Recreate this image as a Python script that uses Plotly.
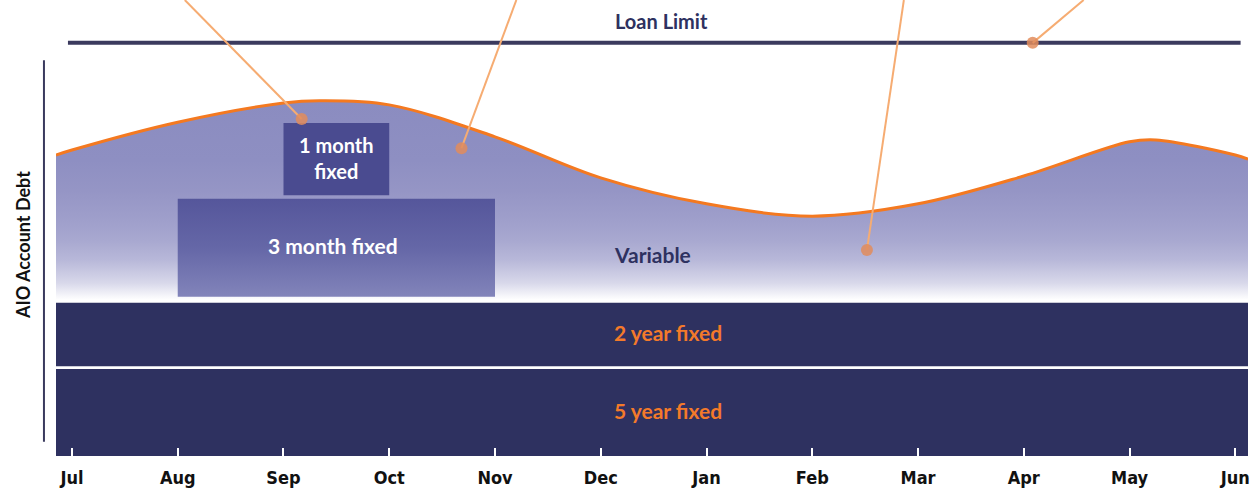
import plotly.graph_objects as go

# ---------------- data ----------------
months = ["Jul", "Aug", "Sep", "Oct", "Nov", "Dec", "Jan", "Feb", "Mar", "Apr", "May", "Jun"]
month_pos = list(range(12))

# AIO account debt (variable portion top) over the year
curve_x = [-0.151, 0, 1, 2, 2.34, 3, 4, 5, 6, 7, 8, 9, 10, 10.25, 11, 11.12]
curve_y = [66.0, 67.1, 73.2, 77.4, 77.9, 77.0, 70.0, 61.0, 55.3, 52.6, 55.3, 61.4, 68.9, 69.3, 66.0, 65.1]

variable_base = 34.2
loan_limit = 90.6
loan_limit_x = [-0.038, 11.05]

# fixed-term bands (bottom, top)
band_names = ["5 year fixed", "2 year fixed"]
band_low = [0.0, 19.7]
band_high = [19.1, 33.6]

# short-term fixed boxes
box_names = ["3 month fixed", "1 month<br>fixed"]
box_start = [1.0, 2.0]
box_end = [4.0, 3.0]
box_low = [34.9, 57.2]
box_high = [56.4, 73.0]

# callout leader lines: (top point, anchor dot)
callout_top_x = [1.067, 4.202, 7.866, 9.566]
callout_top_y = [100, 100, 100, 100]
callout_dot_x = [2.172, 3.683, 7.517, 9.084]
callout_dot_y = [73.9, 67.5, 45.2, 90.6]

X_RANGE = [-0.151, 11.12]
Y_RANGE = [0, 100]

NAVY = "#2e3160"
ORANGE = "#f47920"
LABEL_FONT = "Lato, 'Open Sans', sans-serif"

fig = go.Figure()

# invisible base of the variable area
fig.add_trace(go.Scatter(x=[X_RANGE[0], X_RANGE[1]], y=[variable_base, variable_base],
                         mode="lines", line=dict(width=0), hoverinfo="skip", showlegend=False))
# variable area with vertical gradient
fig.add_trace(go.Scatter(
    x=curve_x, y=curve_y, mode="lines",
    line=dict(color=ORANGE, width=3, shape="spline", smoothing=1.0),
    fill="tonexty",
    fillgradient=dict(type="vertical", start=variable_base, stop=max(curve_y),
                      colorscale=[[0, "#ffffff"], [0.025, "#f4f4f9"], [0.085, "#d8d8ea"],
                                  [0.2, "#b8b8d9"], [0.3, "#a8a8d0"], [0.4, "#9f9fcb"],
                                  [0.55, "#9595c5"], [0.7, "#8e8fc2"], [1, "#8b8cc0"]]),
    hoverinfo="skip", showlegend=False))

# 3 month box (gradient) and 1 month box
box_fills = [
    dict(type="vertical", start=box_low[0], stop=box_high[0],
         colorscale=[[0, "#8284ba"], [0.5, "#6567a7"], [1, "#55569b"]]),
    dict(type="vertical", start=box_low[1], stop=box_high[1],
         colorscale=[[0, "#4a4b90"], [1, "#4a4b90"]]),
]
for i in range(len(box_names)):
    fig.add_trace(go.Scatter(
        x=[box_start[i], box_end[i], box_end[i], box_start[i], box_start[i]],
        y=[box_low[i], box_low[i], box_high[i], box_high[i], box_low[i]],
        mode="lines", line=dict(width=0), fill="toself",
        fillgradient=box_fills[i], hoverinfo="skip", showlegend=False))

# loan limit line
fig.add_trace(go.Scatter(x=loan_limit_x, y=[loan_limit, loan_limit], mode="lines",
                         line=dict(color="#3b3a5e", width=4), hoverinfo="skip", showlegend=False))

# callouts
for i in range(len(callout_dot_x)):
    fig.add_trace(go.Scatter(x=[callout_top_x[i], callout_dot_x[i]],
                             y=[callout_top_y[i], callout_dot_y[i]],
                             mode="lines", line=dict(color="#f6ac72", width=2),
                             hoverinfo="skip", showlegend=False))
fig.add_trace(go.Scatter(x=callout_dot_x, y=callout_dot_y, mode="markers",
                         marker=dict(size=12, color="rgba(226,140,92,0.85)"),
                         hoverinfo="skip", showlegend=False))

# fixed-term bands
shapes = []
for i in range(len(band_names)):
    shapes.append(dict(type="rect", xref="x", yref="y", x0=X_RANGE[0], x1=X_RANGE[1],
                       y0=band_low[i], y1=band_high[i], fillcolor=NAVY,
                       line=dict(width=0), layer="below"))
# y axis line (drawn outside the plot area)
shapes.append(dict(type="line", xref="paper", yref="paper", x0=-0.0101, x1=-0.0101,
                   y0=0.031, y1=0.868, line=dict(color="#3a3a5e", width=2)))

annotations = []
for i in range(len(band_names)):
    annotations.append(dict(x=5.64, y=(band_low[i] + band_high[i]) / 2 + 0.4, xref="x", yref="y",
                            text=band_names[i], showarrow=False,
                            font=dict(family=LABEL_FONT, size=21, color="#f47a2a", weight="bold")))
annotations.append(dict(x=(box_start[0] + box_end[0]) / 2 - 0.03, y=(box_low[0] + box_high[0]) / 2 + 0.5,
                        text=box_names[0], showarrow=False,
                        font=dict(family=LABEL_FONT, size=21, color="white", weight="bold")))
annotations.append(dict(x=(box_start[1] + box_end[1]) / 2, y=(box_low[1] + box_high[1]) / 2 + 0.3,
                        text=box_names[1], showarrow=False,
                        font=dict(family=LABEL_FONT, size=20, color="white", weight="bold")))
annotations.append(dict(x=5.49, y=44.1, text="Variable", showarrow=False,
                        font=dict(family=LABEL_FONT, size=21, color=NAVY, weight="bold")))
annotations.append(dict(x=5.57, y=95.4, text="Loan Limit", showarrow=False,
                        font=dict(family=LABEL_FONT, size=20, color=NAVY, weight="bold")))
annotations.append(dict(x=-0.0275, y=0.463, xref="paper", yref="paper", text="AIO Account Debt",
                        textangle=-90, showarrow=False, xanchor="center", yanchor="middle",
                        font=dict(family=LABEL_FONT, size=18, color="#111111", weight="bold")))

fig.update_layout(
    width=1250, height=489,
    margin=dict(l=56, r=0, t=0, b=33),
    paper_bgcolor="white", plot_bgcolor="white",
    shapes=shapes, annotations=annotations,
    xaxis=dict(range=X_RANGE, tickvals=month_pos, ticktext=months,
               ticks="inside", ticklen=8, tickcolor="white", tickwidth=1.5,
               ticklabeloverflow="allow", ticklabelstandoff=9,
               showgrid=False, zeroline=False, showline=False,
               tickfont=dict(family="'Liberation Sans Narrow', 'DejaVu Sans Condensed', sans-serif",
                             size=18, color="#111111", weight="bold")),
    yaxis=dict(range=Y_RANGE, showticklabels=False, showgrid=False, zeroline=False,
               showline=False, ticks=""),
)

fig.write_html("out.html")
